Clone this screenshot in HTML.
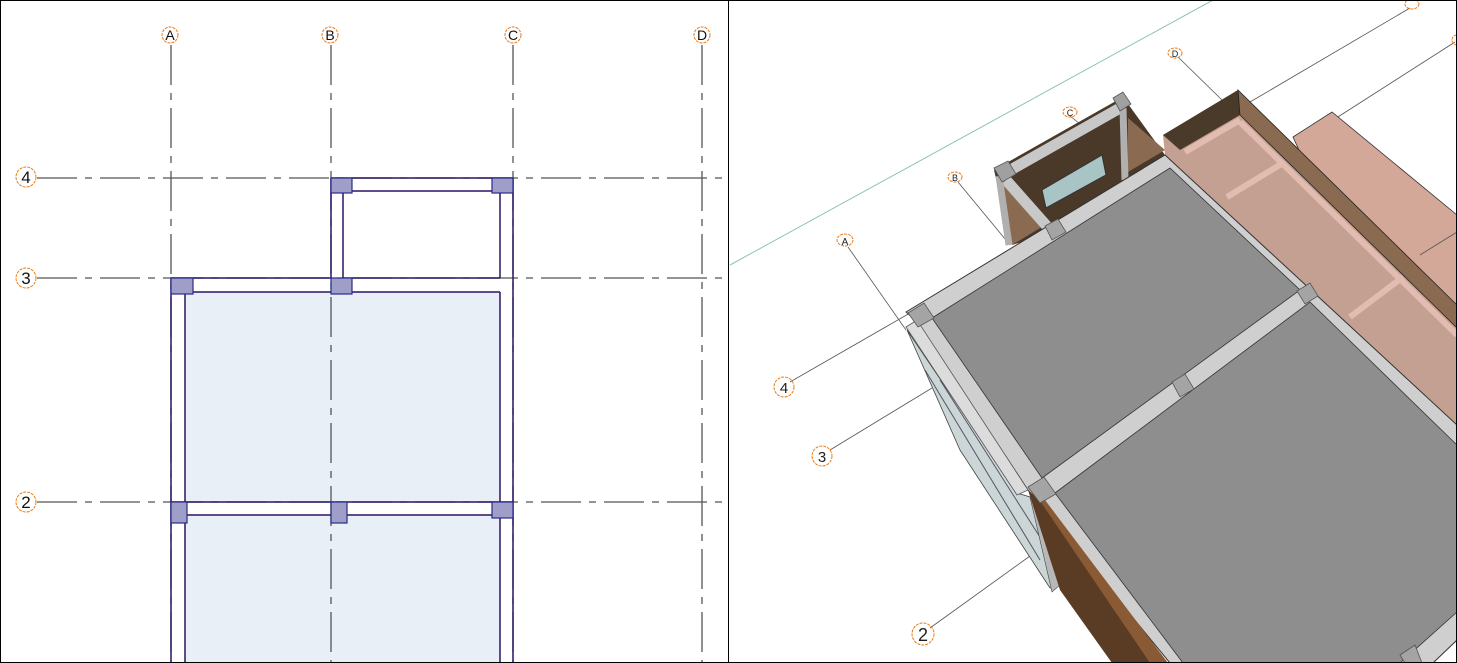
<!DOCTYPE html>
<html><head><meta charset="utf-8"><style>
html,body{margin:0;padding:0;background:#fff}
svg{display:block}
text{font-family:"Liberation Sans",sans-serif}
</style></head><body>
<svg width="1457" height="663" viewBox="0 0 1457 663" xmlns="http://www.w3.org/2000/svg">
<rect x="0" y="0" width="1457" height="663" fill="#fff"/>
<g>
<rect x="185" y="292" width="315" height="210" fill="#e8eff7"/>
<rect x="185" y="515" width="315" height="148" fill="#e8eff7"/>
<g stroke="#555" stroke-width="1.3" stroke-dasharray="40,8,7,8" fill="none">
<line x1="171" y1="45" x2="171" y2="663"/>
<line x1="331" y1="45" x2="331" y2="663"/>
<line x1="513" y1="45" x2="513" y2="663"/>
<line x1="702" y1="45" x2="702" y2="663"/>
<line x1="37" y1="178" x2="728" y2="178"/>
<line x1="37" y1="278" x2="728" y2="278"/>
<line x1="37" y1="502" x2="728" y2="502"/>
</g>
<g stroke="#2a1464" stroke-width="1.5" fill="none">
<line x1="331" y1="178" x2="513" y2="178"/>
<line x1="343" y1="191" x2="500" y2="191"/>
<line x1="331" y1="178" x2="331" y2="278"/>
<line x1="343" y1="191" x2="343" y2="278"/>
<line x1="500" y1="191" x2="500" y2="278"/>
<line x1="343" y1="278" x2="500" y2="278"/>
<line x1="171" y1="278" x2="331" y2="278"/>
<line x1="185" y1="292" x2="500" y2="292"/>
<line x1="500" y1="292" x2="500" y2="502"/>
<line x1="513" y1="178" x2="513" y2="663"/>
<line x1="171" y1="278" x2="171" y2="663"/>
<line x1="185" y1="292" x2="185" y2="663"/>
<line x1="171" y1="502" x2="513" y2="502"/>
<line x1="185" y1="515" x2="500" y2="515"/>
<line x1="500" y1="515" x2="500" y2="663"/>
</g>
<g fill="#9e9ec8" stroke="#2a2a8a" stroke-width="1.2">
<rect x="331" y="178" width="21" height="15"/>
<rect x="492" y="178" width="21" height="15"/>
<rect x="171" y="278" width="22" height="16"/>
<rect x="331" y="278" width="21" height="16"/>
<rect x="171" y="502" width="16" height="21"/>
<rect x="331" y="502" width="16" height="21"/>
<rect x="492" y="502" width="21" height="16"/>
</g>
<g fill="none" stroke="#f07a10" stroke-width="1" stroke-dasharray="3,1">
<circle cx="170" cy="35" r="8"/><circle cx="330" cy="35" r="8"/>
<circle cx="513" cy="35" r="8"/><circle cx="702" cy="35" r="8"/>
<circle cx="26" cy="177" r="10"/><circle cx="26" cy="278" r="10"/><circle cx="26" cy="502" r="10"/>
</g>
<g font-size="14" fill="#111" text-anchor="middle">
<text x="170" y="40">A</text><text x="330" y="40">B</text>
<text x="513" y="40">C</text><text x="702" y="40">D</text>
<text x="26" y="183" font-size="17">4</text><text x="26" y="284" font-size="17">3</text><text x="26" y="508" font-size="17">2</text>
</g>
</g>
<g>
<line x1="730" y1="265" x2="1213" y2="0" stroke="#8cc4b4" stroke-width="1"/>
<g stroke="#555" stroke-width="0.8">
<line x1="848" y1="247" x2="906" y2="330"/>
<line x1="958" y1="182" x2="1010" y2="245"/>
<line x1="1070" y1="116" x2="1080" y2="124"/>
<line x1="1178" y1="57" x2="1222" y2="100"/>
<line x1="1410" y1="8" x2="1250" y2="102"/>
<line x1="1455" y1="42" x2="1330" y2="122"/>
<line x1="790" y1="382" x2="910" y2="313"/>
<line x1="830" y1="450" x2="932" y2="388"/>
<line x1="930" y1="628" x2="1030" y2="556"/>
</g>
<polygon points="1293,137 1332,112 1457,215 1457,420 1340,240" fill="#d4a898" stroke="#333" stroke-width="0.8"/>
<line x1="1420" y1="255" x2="1457" y2="232" stroke="#555" stroke-width="0.8"/>
<polygon points="1163,135 1238,90 1457,305 1457,440 1165,155" fill="#c4a093"/>
<polygon points="1163,135 1238,90 1240,115 1180,150" fill="#4a3a2a"/>
<polygon points="1238,90 1457,305 1457,328 1240,115" fill="#8a6a50" stroke="#222" stroke-width="0.8"/>
<g stroke="#e2bcb0" stroke-width="6">
<line x1="1227" y1="197" x2="1283" y2="163"/>
<line x1="1350" y1="317" x2="1403" y2="277"/>
<line x1="1185" y1="152" x2="1240" y2="120"/>
<line x1="1240" y1="122" x2="1457" y2="335"/>
</g>
<polygon points="994,170 1123,97 1165,155 1055,232 1012,245" fill="#4a3828"/>
<polygon points="1005,180 1045,225 1012,245 999,190" fill="#8a6a50"/>
<polygon points="1128,118 1165,150 1128,172" fill="#8a6a50"/>
<polygon points="1042,190 1102,155 1106,175 1046,208" fill="#a8c4c4" stroke="#333" stroke-width="1"/>
<g stroke="#c8c8c8" stroke-width="11">
<line x1="1000" y1="176" x2="1120" y2="108"/>
<line x1="1006" y1="180" x2="1052" y2="232"/>
</g>
<g stroke="#b0b0b0" stroke-width="7"><line x1="1123" y1="108" x2="1125" y2="180"/><line x1="999" y1="176" x2="1009" y2="245"/></g>
<g fill="#a0a0a0" stroke="#555" stroke-width="0.8">
<polygon points="994,168 1008,161 1016,174 1002,182"/>
<polygon points="1113,98 1123,92 1131,104 1120,111"/>
</g>
<polygon points="906,312 1165,155 1457,425 1457,640 1433,663 1170,663 1028,490 917,322" fill="#cfcfcf" stroke="#333" stroke-width="1"/>
<polygon points="907,330 960,450 1050,588 1056,586 1030,497 1017,493" fill="#ccd6d6" stroke="#444" stroke-width="0.8"/>
<g stroke="#556" stroke-width="1"><line x1="925" y1="370" x2="1040" y2="560"/><line x1="940" y1="380" x2="1045" y2="545"/></g>
<polygon points="906,327 917,320 1028,490 1017,495" fill="#dcdcdc" stroke="#555" stroke-width="0.8"/>
<polygon points="1030,497 1040,495 1060,585 1052,592" fill="#b8b8b8" stroke="#444" stroke-width="0.6"/>
<polygon points="1028,490 1040,500 1168,663 1112,663 1060,590" fill="#5a3c24"/>
<polygon points="1036,495 1045,500 1168,663 1150,663" fill="#8a5a34"/>
<polygon points="932,318 1170,168 1300,290 1042,478" fill="#8e8e8e" stroke="#333" stroke-width="0.8"/>
<polygon points="1055,493 1310,302 1457,445 1457,612 1400,663 1183,663" fill="#8e8e8e" stroke="#333" stroke-width="0.8"/>
<g fill="#a4a4a4" stroke="#555" stroke-width="0.8">
<polygon points="908,313 924,303 934,318 918,327"/>
<polygon points="1045,226 1058,219 1066,232 1052,240"/>
<polygon points="1297,291 1310,283 1318,296 1305,304"/>
<polygon points="1172,382 1185,374 1194,389 1180,397"/>
<polygon points="1028,487 1044,477 1056,494 1040,503"/>
<polygon points="1400,655 1415,645 1422,663 1405,663"/>
</g>
<g fill="none" stroke="#f07a10" stroke-width="1" stroke-dasharray="3,1">
<ellipse cx="845" cy="240" rx="8" ry="6"/><ellipse cx="955" cy="177" rx="7" ry="5"/>
<ellipse cx="1070" cy="112" rx="7" ry="5"/><ellipse cx="1175" cy="53" rx="7" ry="5"/>
<ellipse cx="1412" cy="4" rx="7" ry="5"/><ellipse cx="1457" cy="40" rx="5" ry="5"/>
<circle cx="784" cy="387" r="10"/><circle cx="822" cy="456" r="10"/><circle cx="923" cy="634" r="11"/>
</g>
<g font-size="13" fill="#222" text-anchor="middle">
<text x="845" y="245" font-size="10">A</text><text x="955" y="181" font-size="9">B</text>
<text x="1070" y="116" font-size="9">C</text><text x="1175" y="57" font-size="9">D</text>
<text x="784" y="393" font-size="15">4</text><text x="822" y="462" font-size="15">3</text><text x="923" y="641" font-size="18">2</text>
</g>
</g>
<line x1="728.5" y1="0" x2="728.5" y2="663" stroke="#000" stroke-width="1"/>
<rect x="0.5" y="0.5" width="1456" height="662" fill="none" stroke="#000" stroke-width="1"/>
</svg>
</body></html>
